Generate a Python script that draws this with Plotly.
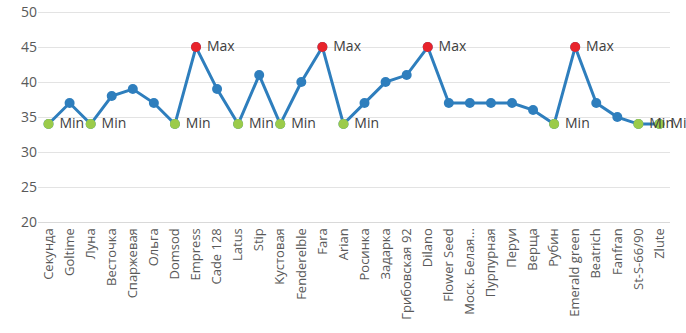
import plotly.graph_objects as go

categories = ["Секунда", "Goltime", "Луна", "Весточка", "Спаржевая", "Ольга", "Domsod",
              "Empress", "Cade 128", "Latus", "Stip", "Кустовая", "Fenderelble", "Fara",
              "Arian", "Росинка", "Задарка", "Грибовская 92", "Dilano", "Flower Seed",
              "Моск. Белая...", "Пурпурная", "Перуи", "Верща", "Рубин", "Emerald green",
              "Beatrich", "Fanfran", "St-S-66/90", "Zlute"]
values = [34, 37, 34, 38, 39, 37, 34, 45, 39, 34, 41, 34, 40, 45, 34, 37, 40, 41, 45,
          37, 37, 37, 37, 36, 34, 45, 37, 35, 34, 34]
y_ticks = [20, 25, 30, 35, 40, 45, 50]

vmin, vmax = min(values), max(values)
min_x = [c for c, v in zip(categories, values) if v == vmin]
min_y = [v for v in values if v == vmin]
max_x = [c for c, v in zip(categories, values) if v == vmax]
max_y = [v for v in values if v == vmax]

font = "Open Sans"
fig = go.Figure()
fig.add_trace(go.Scatter(x=categories, y=values, mode="lines+markers",
                         line=dict(color="#2E7EBD", width=3),
                         marker=dict(color="#2E7EBD", size=10),
                         showlegend=False, hoverinfo="x+y"))
fig.add_trace(go.Scatter(x=min_x, y=min_y, mode="markers+text",
                         marker=dict(color="#9BCB4A", size=10),
                         text=[" Min"] * len(min_x), textposition="middle right",
                         textfont=dict(family=font, size=14, color="#404040"),
                         showlegend=False, cliponaxis=False))
fig.add_trace(go.Scatter(x=max_x, y=max_y, mode="markers+text",
                         marker=dict(color="#E8232B", size=10),
                         text=[" Max"] * len(max_x), textposition="middle right",
                         textfont=dict(family=font, size=14, color="#404040"),
                         showlegend=False, cliponaxis=False))

fig.update_layout(
    width=686, height=333,
    margin=dict(l=38, r=16, t=10, b=111),
    plot_bgcolor="white", paper_bgcolor="white",
    font=dict(family=font, color="#595959"),
    xaxis=dict(type="category", tickangle=-90, showgrid=False, showline=True,
               linecolor="#D9D9D9", tickfont=dict(size=13, color="#595959"),
               range=[-0.5, len(categories) - 0.5], ticks="", automargin=False),
    yaxis=dict(range=[20, 50.3], tickvals=y_ticks, showgrid=True, gridcolor="#E3E3E3",
               zeroline=False, tickfont=dict(size=14, color="#595959"), ticks="",
               automargin=False),
)
fig.write_html("out.html", config={"displayModeBar": False},
               post_script="document.body.style.margin='0';document.body.style.padding='0';")
